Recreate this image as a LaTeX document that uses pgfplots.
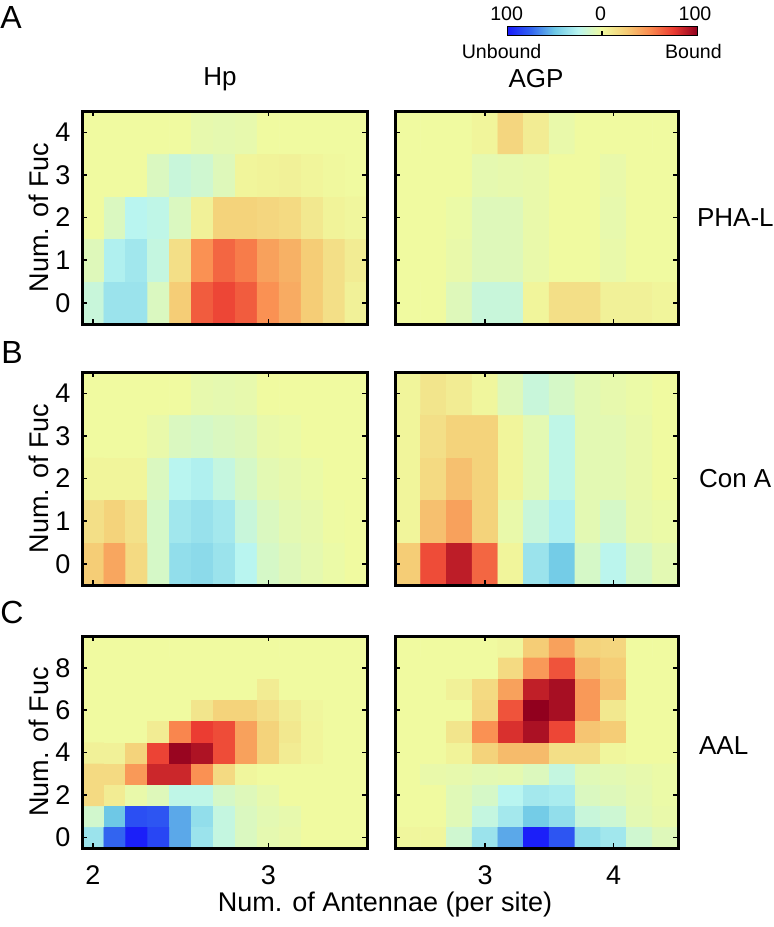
\documentclass[border=0pt]{standalone}
\usepackage{fontspec}
\setmainfont{Liberation Sans}
\usepackage{pgfplots}
\pgfplotsset{compat=1.18}

% blue - pale yellow - red map, -100 (unbound) ... 100 (bound)
\pgfplotsset{
  colormap={bub}{rgb255=(25,25,250) rgb255=(50,100,240) rgb255=(110,200,230)
    rgb255=(185,245,240) rgb255=(240,250,160) rgb255=(245,205,118)
    rgb255=(250,140,80) rgb255=(235,60,50) rgb255=(145,0,30)},
  hm/.style={scale only axis, axis on top, anchor=north west,
    colormap name=bub, point meta min=-100, point meta max=100,
    axis line style={line width=1.5pt}, tick style={black, line width=0.8pt},
    major tick length=2.5pt,
    tick label style={font=\fontsize{13.5}{15}\selectfont},
    /pgf/number format/assume math mode=true,
    xticklabel style={yshift=-5.2pt}, yticklabel style={xshift=-2.3pt}},
  hp/.style={hm, width=142.5pt, xmin=1.9375, xmax=3.5625, xtick={2,3}},
  agp/.style={hm, width=141.5pt, xmin=2.3, xmax=4.5, xtick={3,4}, yticklabels={}},
  r5/.style={height=106.5pt, ymin=-0.5, ymax=4.5, ytick={0,1,2,3,4}},
  r10/.style={height=106pt, ymin=-0.5, ymax=9.5, ytick={0,2,4,6,8}},
  cell/.style={matrix plot*, point meta=explicit},
}

\begin{document}
\begin{tikzpicture}
\path[use as bounding box] (0,0) rectangle (386.5pt,-463.5pt);

% ---------- A: PHA-L ----------
\begin{axis}[hp, r5, at={(41pt,-55.5pt)}, xticklabels={}]
\addplot[cell, mesh/cols=13] coordinates {
(2,0)[-18] (2.125,0)[-35] (2.25,0)[-35] (2.375,0)[-10] (2.5,0)[25] (2.625,0)[65] (2.75,0)[72] (2.875,0)[65] (3,0)[48] (3.125,0)[38] (3.25,0)[25] (3.375,0)[15] (3.5,0)[5]
(2,1)[-8] (2.125,1)[-28] (2.25,1)[-33] (2.375,1)[-20] (2.5,1)[15] (2.625,1)[48] (2.75,1)[62] (2.875,1)[55] (3,1)[42] (3.125,1)[36] (3.25,1)[25] (3.375,1)[15] (3.5,1)[8]
(2,2)[0] (2.125,2)[-10] (2.25,2)[-25] (2.375,2)[-22] (2.5,2)[-10] (2.625,2)[5] (2.75,2)[22] (2.875,2)[22] (3,2)[20] (3.125,2)[18] (3.25,2)[10] (3.375,2)[4] (3.5,2)[2]
(2,3)[0] (2.125,3)[0] (2.25,3)[0] (2.375,3)[-10] (2.5,3)[-18] (2.625,3)[-15] (2.75,3)[-8] (2.875,3)[3] (3,3)[4] (3.125,3)[5] (3.25,3)[3] (3.375,3)[1] (3.5,3)[0]
(2,4)[0] (2.125,4)[0] (2.25,4)[0] (2.375,4)[0] (2.5,4)[0] (2.625,4)[-4] (2.75,4)[-5] (2.875,4)[-4] (3,4)[0] (3.125,4)[0] (3.25,4)[0] (3.375,4)[0] (3.5,4)[0]
};
\end{axis}

\begin{axis}[agp, r5, at={(197.5pt,-55.5pt)}, xticklabels={}]
\addplot[cell, mesh/cols=11] coordinates {
(2.4,0)[0] (2.6,0)[0] (2.8,0)[-8] (3,0)[-18] (3.2,0)[-18] (3.4,0)[3] (3.6,0)[15] (3.8,0)[15] (4,0)[5] (4.2,0)[5] (4.4,0)[3]
(2.4,1)[0] (2.6,1)[0] (2.8,1)[-3] (3,1)[-8] (3.2,1)[-8] (3.4,1)[-3] (3.6,1)[0] (3.8,1)[0] (4,1)[-3] (4.2,1)[0] (4.4,1)[0]
(2.4,2)[0] (2.6,2)[0] (2.8,2)[-2] (3,2)[-8] (3.2,2)[-8] (3.4,2)[-3] (3.6,2)[0] (3.8,2)[0] (4,2)[-4] (4.2,2)[0] (4.4,2)[0]
(2.4,3)[0] (2.6,3)[0] (2.8,3)[0] (3,3)[-5] (3.2,3)[-4] (3.4,3)[-3] (3.6,3)[0] (3.8,3)[0] (4,3)[-3] (4.2,3)[0] (4.4,3)[0]
(2.4,4)[0] (2.6,4)[0] (2.8,4)[0] (3,4)[3] (3.2,4)[20] (3.4,4)[8] (3.6,4)[-3] (3.8,4)[0] (4,4)[0] (4.2,4)[0] (4.4,4)[0]
};
\end{axis}

% ---------- B: Con A ----------
\begin{axis}[hp, r5, at={(41pt,-186pt)}, xticklabels={}]
\addplot[cell, mesh/cols=13] coordinates {
(2,0)[25] (2.125,0)[40] (2.25,0)[18] (2.375,0)[-12] (2.5,0)[-38] (2.625,0)[-40] (2.75,0)[-35] (2.875,0)[-25] (3,0)[-12] (3.125,0)[-8] (3.25,0)[-5] (3.375,0)[-2] (3.5,0)[0]
(2,1)[15] (2.125,1)[22] (2.25,1)[14] (2.375,1)[-12] (2.5,1)[-33] (2.625,1)[-36] (2.75,1)[-32] (2.875,1)[-18] (3,1)[-10] (3.125,1)[-6] (3.25,1)[-4] (3.375,1)[-1] (3.5,1)[0]
(2,2)[3] (2.125,2)[3] (2.25,2)[3] (2.375,2)[-10] (2.5,2)[-25] (2.625,2)[-28] (2.75,2)[-20] (2.875,2)[-12] (3,2)[-6] (3.125,2)[-4] (3.25,2)[-2] (3.375,2)[0] (3.5,2)[0]
(2,3)[0] (2.125,3)[0] (2.25,3)[0] (2.375,3)[-3] (2.5,3)[-10] (2.625,3)[-12] (2.75,3)[-10] (2.875,3)[-8] (3,3)[-3] (3.125,3)[-2] (3.25,3)[0] (3.375,3)[0] (3.5,3)[0]
(2,4)[0] (2.125,4)[0] (2.25,4)[0] (2.375,4)[0] (2.5,4)[0] (2.625,4)[-4] (2.75,4)[-5] (2.875,4)[-4] (3,4)[0] (3.125,4)[0] (3.25,4)[0] (3.375,4)[0] (3.5,4)[0]
};
\end{axis}

\begin{axis}[agp, r5, at={(197.5pt,-186pt)}, xticklabels={}]
\addplot[cell, mesh/cols=11] coordinates {
(2.4,0)[25] (2.6,0)[70] (2.8,0)[88] (3,0)[62] (3.2,0)[3] (3.4,0)[-35] (3.6,0)[-48] (3.8,0)[-12] (4,0)[-24] (4.2,0)[-12] (4.4,0)[-6]
(2.4,1)[3] (2.6,1)[30] (2.8,1)[42] (3,1)[22] (3.2,1)[-3] (3.4,1)[-18] (3.6,1)[-28] (3.8,1)[-6] (4,1)[-12] (4.2,1)[-4] (4.4,1)[-2]
(2.4,2)[3] (2.6,2)[18] (2.8,2)[30] (3,2)[22] (3.2,2)[3] (3.4,2)[-6] (3.6,2)[-22] (3.8,2)[-6] (4,2)[-6] (4.2,2)[-3] (4.4,2)[0]
(2.4,3)[3] (2.6,3)[15] (2.8,3)[22] (3,3)[22] (3.2,3)[3] (3.4,3)[-6] (3.6,3)[-22] (3.8,3)[-6] (4,3)[-6] (4.2,3)[-3] (4.4,3)[0]
(2.4,4)[3] (2.6,4)[12] (2.8,4)[8] (3,4)[2] (3.2,4)[-8] (3.4,4)[-18] (3.6,4)[-12] (3.8,4)[-6] (4,4)[-4] (4.2,4)[-2] (4.4,4)[0]
};
\end{axis}

% ---------- C: AAL ----------
\begin{axis}[hp, r10, at={(41pt,-318pt)}]
\addplot[cell, mesh/cols=13] coordinates {
(2,0)[-35] (2.125,0)[-75] (2.25,0)[-98] (2.375,0)[-85] (2.5,0)[-58] (2.625,0)[-35] (2.75,0)[-20] (2.875,0)[-10] (3,0)[-5] (3.125,0)[-3] (3.25,0)[0] (3.375,0)[0] (3.5,0)[0]
(2,1)[-14] (2.125,1)[-50] (2.25,1)[-82] (2.375,1)[-80] (2.5,1)[-58] (2.625,1)[-38] (2.75,1)[-20] (2.875,1)[-10] (3,1)[-6] (3.125,1)[-4] (3.25,1)[0] (3.375,1)[0] (3.5,1)[0]
(2,2)[18] (2.125,2)[8] (2.25,2)[-3] (2.375,2)[-8] (2.5,2)[-22] (2.625,2)[-22] (2.75,2)[-12] (2.875,2)[-8] (3,2)[-4] (3.125,2)[0] (3.25,2)[0] (3.375,2)[0] (3.5,2)[0]
(2,3)[18] (2.125,3)[18] (2.25,3)[45] (2.375,3)[84] (2.5,3)[84] (2.625,3)[48] (2.75,3)[18] (2.875,3)[2] (3,3)[0] (3.125,3)[0] (3.25,3)[0] (3.375,3)[0] (3.5,3)[0]
(2,4)[5] (2.125,4)[5] (2.25,4)[22] (2.375,4)[73] (2.5,4)[98] (2.625,4)[92] (2.75,4)[70] (2.875,4)[42] (3,4)[22] (3.125,4)[8] (3.25,4)[3] (3.375,4)[0] (3.5,4)[0]
(2,5)[0] (2.125,5)[0] (2.25,5)[0] (2.375,5)[8] (2.5,5)[52] (2.625,5)[75] (2.75,5)[70] (2.875,5)[42] (3,5)[22] (3.125,5)[10] (3.25,5)[3] (3.375,5)[0] (3.5,5)[0]
(2,6)[0] (2.125,6)[0] (2.25,6)[0] (2.375,6)[0] (2.5,6)[0] (2.625,6)[12] (2.75,6)[22] (2.875,6)[22] (3,6)[15] (3.125,6)[7] (3.25,6)[2] (3.375,6)[0] (3.5,6)[0]
(2,7)[0] (2.125,7)[0] (2.25,7)[0] (2.375,7)[0] (2.5,7)[0] (2.625,7)[0] (2.75,7)[0] (2.875,7)[0] (3,7)[8] (3.125,7)[0] (3.25,7)[0] (3.375,7)[0] (3.5,7)[0]
(2,8)[0] (2.125,8)[0] (2.25,8)[0] (2.375,8)[0] (2.5,8)[0] (2.625,8)[0] (2.75,8)[0] (2.875,8)[0] (3,8)[0] (3.125,8)[0] (3.25,8)[0] (3.375,8)[0] (3.5,8)[0]
(2,9)[0] (2.125,9)[0] (2.25,9)[0] (2.375,9)[0] (2.5,9)[0] (2.625,9)[0] (2.75,9)[0] (2.875,9)[0] (3,9)[0] (3.125,9)[0] (3.25,9)[0] (3.375,9)[0] (3.5,9)[0]
};
\end{axis}

\begin{axis}[agp, r10, at={(197.5pt,-318pt)}]
\addplot[cell, mesh/cols=11] coordinates {
(2.4,0)[2] (2.6,0)[2] (2.8,0)[-15] (3,0)[-35] (3.2,0)[-58] (3.4,0)[-98] (3.6,0)[-80] (3.8,0)[-38] (4,0)[-33] (4.2,0)[-15] (4.4,0)[-8]
(2.4,1)[0] (2.6,1)[0] (2.8,1)[-7] (3,1)[-20] (3.2,1)[-32] (3.4,1)[-48] (3.6,1)[-38] (3.8,1)[-18] (4,1)[-16] (4.2,1)[-6] (4.4,1)[-3]
(2.4,2)[0] (2.6,2)[0] (2.8,2)[-7] (3,2)[-12] (3.2,2)[-25] (3.4,2)[-32] (3.6,2)[-30] (3.8,2)[-10] (4,2)[-8] (4.2,2)[-5] (4.4,2)[-2]
(2.4,3)[0] (2.6,3)[-3] (2.8,3)[-4] (3,3)[-6] (3.2,3)[-5] (3.4,3)[-9] (3.6,3)[-20] (3.8,3)[-7] (4,3)[-6] (4.2,3)[-4] (4.4,3)[-2]
(2.4,4)[0] (2.6,4)[0] (2.8,4)[4] (3,4)[22] (3.2,4)[32] (3.4,4)[32] (3.6,4)[15] (3.8,4)[15] (4,4)[2] (4.2,4)[0] (4.4,4)[0]
(2.4,5)[0] (2.6,5)[0] (2.8,5)[12] (3,5)[48] (3.2,5)[80] (3.4,5)[93] (3.6,5)[72] (3.8,5)[28] (4,5)[25] (4.2,5)[0] (4.4,5)[0]
(2.4,6)[0] (2.6,6)[0] (2.8,6)[0] (3,6)[20] (3.2,6)[68] (3.4,6)[100] (3.6,6)[94] (3.8,6)[45] (4,6)[10] (4.2,6)[0] (4.4,6)[0]
(2.4,7)[0] (2.6,7)[0] (2.8,7)[5] (3,7)[18] (3.2,7)[42] (3.4,7)[87] (3.6,7)[94] (3.8,7)[45] (4,7)[28] (4.2,7)[0] (4.4,7)[0]
(2.4,8)[0] (2.6,8)[0] (2.8,8)[0] (3,8)[0] (3.2,8)[18] (3.4,8)[45] (3.6,8)[68] (3.8,8)[32] (4,8)[25] (4.2,8)[0] (4.4,8)[0]
(2.4,9)[0] (2.6,9)[0] (2.8,9)[0] (3,9)[0] (3.2,9)[2] (3.4,9)[25] (3.6,9)[42] (3.8,9)[22] (4,9)[20] (4.2,9)[0] (4.4,9)[0]
};
\end{axis}

% ---------- colour bar ----------
\begin{axis}[at={(253.5pt,-9pt)}, anchor=south west, scale only axis,
  width=95pt, height=4.5pt, hide axis, colormap name=bub,
  point meta min=-100, point meta max=100, colorbar horizontal,
  colorbar style={at={(parent axis.south west)}, anchor=south west,
    scale only axis, width=95pt, height=4.5pt, xtick={0}, xticklabels={},
    xtick pos=left, tick align=inside, major tick length=2pt,
    tick style={black, line width=0.6pt}, axis line style={line width=0.5pt}}]
\addplot[draw=none] coordinates {(0,0) (1,1)};
\end{axis}

% ---------- texts ----------
\begin{scope}[every node/.style={font=\fontsize{9.8}{11}\selectfont}]
\node at (253.3pt,-6.7pt) {100};
\node at (300.3pt,-6.7pt) {0};
\node at (347.5pt,-6.7pt) {100};
\node at (250.8pt,-25.8pt) {Unbound};
\node at (346.7pt,-25.8pt) {Bound};
\end{scope}

\begin{scope}[every node/.style={font=\fontsize{16}{18}\selectfont}]
\node at (5.5pt,-8.5pt) {A};
\node at (6pt,-176pt) {B};
\node at (6pt,-306pt) {C};
\end{scope}

\begin{scope}[every node/.style={font=\fontsize{13}{15}\selectfont}]
\node at (110pt,-39.5pt) {Hp};
\node at (268pt,-39.5pt) {AGP};
\node[anchor=west] at (345pt,-108.75pt) {PHA-L};
\node[anchor=west] at (346pt,-239.25pt) {Con A};
\node[anchor=west] at (346pt,-373pt) {AAL};
\end{scope}

\begin{scope}[every node/.style={font=\fontsize{13.5}{15}\selectfont}]
\node[rotate=90] at (19.5pt,-108.75pt) {Num. of Fuc};
\node[rotate=90] at (19.5pt,-239.25pt) {Num. of Fuc};
\node[rotate=90] at (19.5pt,-371pt) {Num. of Fuc};
\node at (192.5pt,-452.5pt) {Num. of Antennae (per site)};
\end{scope}
\end{tikzpicture}
\end{document}
